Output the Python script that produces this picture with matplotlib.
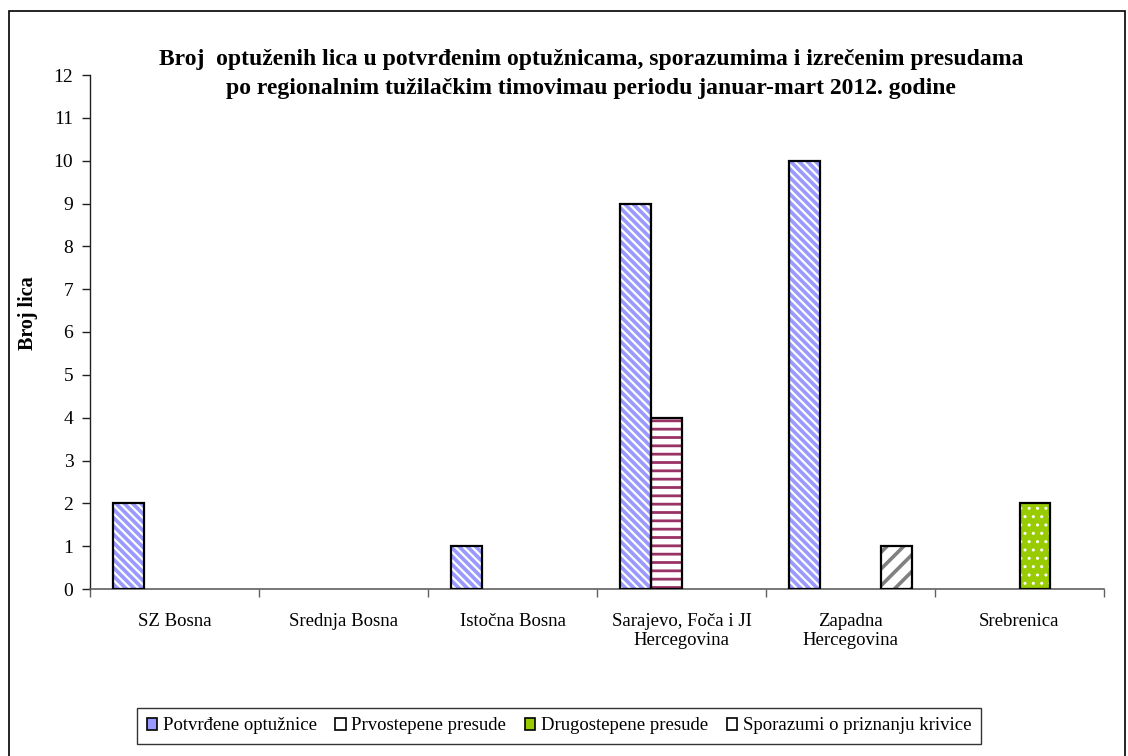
import matplotlib
matplotlib.use("Agg")
import matplotlib.pyplot as plt
from matplotlib.patches import Rectangle, Patch
import numpy as np

categories = ["SZ Bosna", "Srednja Bosna", "Istočna Bosna",
              "Sarajevo, Foča i JI\nHercegovina", "Zapadna\nHercegovina", "Srebrenica"]
series_names = ["Potvrđene optužnice", "Prvostepene presude",
                "Drugostepene presude", "Sporazumi o priznanju krivice"]
potvrdene = [2, 0, 1, 9, 10, 0]
prvostepene = [0, 0, 0, 4, 0, 0]
drugostepene = [0, 0, 0, 0, 0, 2]
sporazumi = [0, 0, 0, 0, 1, 0]
y_ticks = list(range(0, 13))

title = ("Broj  optuženih lica u potvrđenim optužnicama, sporazumima i izrečenim presudama\n"
         "po regionalnim tužilačkim timovimau periodu januar-mart 2012. godine")
ylabel = "Broj lica"

plt.rcParams['font.family'] = ['Liberation Serif', 'DejaVu Serif']

W, H = 1128, 756
fig = plt.figure(figsize=(W / 100, H / 100), dpi=100)
ax = fig.add_axes([90 / W, 1 - 589 / H, (1104 - 90) / W, (589 - 75) / H])

styles = [
    dict(face="#9999FF", hatch="\\\\\\\\", hcolor="white", hlw=1.6),
    dict(face="white", hatch="--", hcolor="#993366", hlw=2.0),
    dict(face="#99CC00", hatch="..", hcolor="white", hlw=1.0),
    dict(face="white", hatch="//", hcolor="#808080", hlw=2.6),
]
data = [potvrdene, prvostepene, drugostepene, sporazumi]
x = np.arange(len(categories))
w = 0.183
offsets = [-1.5, -0.5, 0.5, 1.5]

for vals, st, off in zip(data, styles, offsets):
    xs = [xi + off * w for xi, v in zip(x, vals) if v > 0]
    vs = [v for v in vals if v > 0]
    if not vs:
        continue
    plt.rcParams['hatch.linewidth'] = st["hlw"]
    bars = ax.bar(xs, vs, width=w, color=st["face"], edgecolor=st["hcolor"],
                  hatch=st["hatch"], linewidth=0, zorder=2)
    for b in bars:
        if hasattr(b, "set_hatch_linewidth"):
            b.set_hatch_linewidth(st["hlw"])
    ax.bar(xs, vs, width=w, facecolor="none", edgecolor="black",
           linewidth=1.6, zorder=3)

ax.set_xlim(-0.5, len(categories) - 0.5)
ax.set_ylim(0, 12)
ax.set_yticks(y_ticks)
ax.set_xticks(x)
ax.set_xticklabels(categories, fontsize=13.5, linespacing=1.15)
ax.set_xticks(np.arange(-0.5, len(categories)), minor=True)
ax.tick_params(axis='x', which='major', length=0, pad=17)
ax.tick_params(axis='x', which='minor', length=6, width=1, color="#606060", direction='out')
ax.tick_params(axis='y', length=6, width=1, direction='out', labelsize=14, pad=6, color="#202020")
for s in ["top", "right"]:
    ax.spines[s].set_visible(False)
ax.spines["left"].set_color("#202020")
ax.spines["bottom"].set_color("#606060")
ax.spines["left"].set_linewidth(1.0)
ax.spines["bottom"].set_linewidth(1.2)

fig.text(28 / W, 1 - 313 / H, ylabel, rotation=90, ha="center", va="center",
         fontsize=14.5, fontweight="bold")
fig.text(0.524, 1 - 74 / H, title, ha="center", va="center", fontsize=17,
         fontweight="bold", linespacing=1.5)

plt.rcParams['hatch.linewidth'] = 1.0
handles = []
for st in styles:
    handles.append(Patch(facecolor=st["face"], edgecolor="black", linewidth=1.2))
leg = fig.legend(handles, series_names, loc="center", bbox_to_anchor=(559 / W, 1 - 726 / H),
                 ncol=4, frameon=True, fancybox=False, fontsize=13.5,
                 handlelength=0.55, handleheight=0.55, handletextpad=0.3,
                 columnspacing=1.0, borderpad=0.5, edgecolor="black")
leg.get_frame().set_linewidth(1.0)

fig.patches.append(Rectangle((9 / W, -0.05), (1125 - 9) / W, 1.05 - 11 / H,
                             transform=fig.transFigure, fill=False,
                             edgecolor="black", linewidth=1.2))

fig.savefig("out.png", dpi=100)
